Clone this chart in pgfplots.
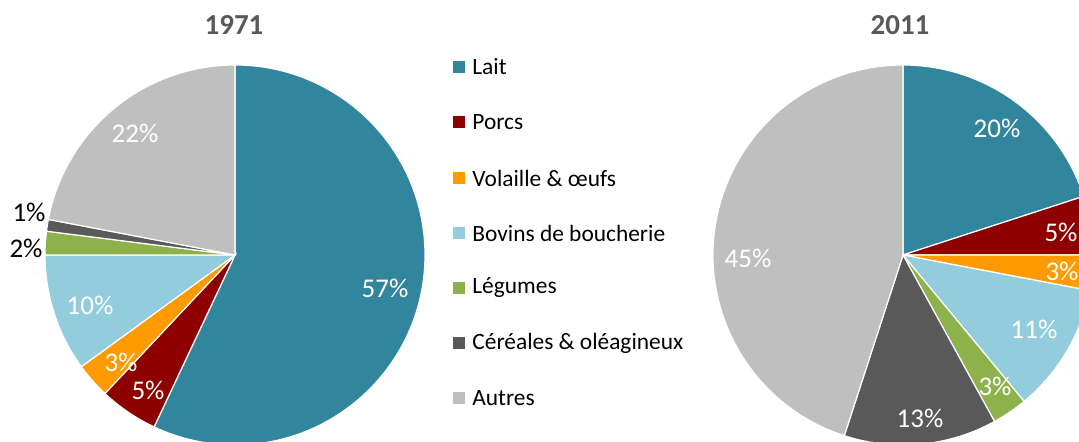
\documentclass[border=0pt]{standalone}
\usepackage{pgfplots}
\pgfplotsset{compat=1.18}
\usepackage{fontspec}
\setmainfont{Carlito}
\definecolor{lait}{HTML}{31859C}
\definecolor{porcs}{HTML}{8E0000}
\definecolor{volaille}{HTML}{FF9A00}
\definecolor{bovins}{HTML}{93CDDD}
\definecolor{legumes}{HTML}{8DB24B}
\definecolor{cereales}{HTML}{595959}
\definecolor{autres}{HTML}{BFBFBF}
\definecolor{titlegray}{HTML}{595959}
% pie: centre x, centre y (axis units), list value/colour/label x/label y/label colour
\newcommand\pie[3]{%
  \xdef\cum{90}%
  \foreach \v/\c/\lx/\ly/\tc in {#3} {%
    \pgfmathsetmacro\b{\cum-3.6*\v}%
    \path[fill=\c, draw=white, line width=0.6pt] (axis cs:#1,#2) -- ++(\cum:95pt) arc[start angle=\cum, end angle=\b, radius=95pt] -- cycle;
    \node[text=\tc, font=\fontsize{13.5}{15}\selectfont] at (axis cs:\lx,\ly) {\v\%};
    \xdef\cum{\b}%
  }%
}
\begin{document}
\begin{tikzpicture}
\begin{axis}[scale only axis, width=539.5pt, height=220.5pt,
  xmin=0, xmax=1079, ymin=0, ymax=441, hide axis, clip=true]
\pgfplotsextra{%
  \pie{235}{186}{57/lait/385/153/white, 5/porcs/148/51/white, 3/volaille/121/79/white,
    10/bovins/90/136/white, 2/legumes/26/193/black, 1/cereales/29/229/black, 22/autres/135/308/white}
  \pie{903}{186}{20/lait/997/313/white, 5/porcs/1061/209/white, 3/volaille/1062/170/white,
    11/bovins/1034/112/white, 3/legumes/995/55/white, 13/cereales/920/23/white, 45/autres/748/183/white}
  \node[text=titlegray, font=\fontsize{14.5}{16}\selectfont\bfseries] at (axis cs:234,416) {1971};
  \node[text=titlegray, font=\fontsize{14.5}{16}\selectfont\bfseries] at (axis cs:900,416) {2011};
  \foreach \y/\c/\t in {374/lait/Lait, 319/porcs/Porcs, 263/volaille/Volaille \& œufs,
    208/bovins/Bovins de boucherie, 153/legumes/Légumes, 98/cereales/Céréales \& oléagineux, 43/autres/Autres} {%
    \fill[\c] (axis cs:453,\y-6) rectangle (axis cs:465,\y+6);
    \node[anchor=west, inner sep=0pt, font=\fontsize{11.7}{13}\selectfont] at (axis cs:472,\y) {\t};
  }%
}
\end{axis}
\pgfresetboundingbox
\path[use as bounding box] (current axis.south west) rectangle (current axis.north east);
\end{tikzpicture}
\end{document}
